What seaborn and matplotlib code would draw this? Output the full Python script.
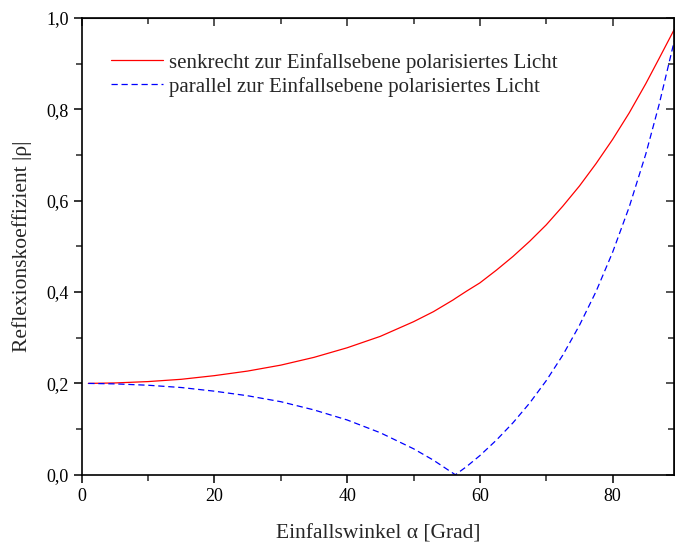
import matplotlib
matplotlib.use("Agg")
import matplotlib.pyplot as plt
from matplotlib.ticker import MultipleLocator, FuncFormatter
import pandas as pd
import seaborn as sns

# angle of incidence in degrees and |rho|
angles = [1, 5, 10, 15, 20, 25, 30, 35, 40, 45, 50, 53, 56, 56.3, 58, 60, 62.5, 65, 67.5, 70,
          72.5, 75, 77.5, 80, 82.5, 85, 87, 89.3]
rho_senk = [0.200, 0.201, 0.204, 0.209, 0.217, 0.227, 0.240, 0.257, 0.278, 0.303, 0.335, 0.357,
            0.383, 0.386, 0.402, 0.420, 0.448, 0.478, 0.511, 0.547, 0.588, 0.632, 0.681, 0.734,
            0.792, 0.856, 0.911, 0.975]
rho_par = [0.200, 0.199, 0.196, 0.191, 0.183, 0.173, 0.160, 0.142, 0.120, 0.092, 0.057, 0.032,
           0.003, 0.000, 0.018, 0.042, 0.076, 0.114, 0.157, 0.206, 0.262, 0.327, 0.401, 0.487,
           0.586, 0.702, 0.810, 0.950]

label_senk = "senkrecht zur Einfallsebene polarisiertes Licht"
label_par = "parallel zur Einfallsebene polarisiertes Licht"

df = pd.DataFrame({
    "alpha": angles * 2,
    "rho": rho_senk + rho_par,
    "serie": [label_senk] * len(angles) + [label_par] * len(angles),
})

sns.set_style("ticks")
plt.rcParams["font.family"] = ["Liberation Serif", "DejaVu Serif"]

fig = plt.figure(figsize=(6.75, 5.42), dpi=100)
ax = fig.add_axes([0.121, 0.124, 0.878, 0.843])

sns.lineplot(data=df, x="alpha", y="rho", hue="serie", style="serie",
             palette={label_senk: "#ff0000", label_par: "#0000ff"},
             dashes={label_senk: "", label_par: (5, 3)},
             linewidth=0.9, ax=ax, sort=False)

ax.set_xlim(0, 89.3)
ax.set_ylim(0, 1.0)
ax.xaxis.set_major_locator(MultipleLocator(20))
ax.xaxis.set_minor_locator(MultipleLocator(10))
ax.yaxis.set_major_locator(MultipleLocator(0.2))
ax.yaxis.set_minor_locator(MultipleLocator(0.1))
ax.yaxis.set_major_formatter(FuncFormatter(lambda v, p: f"{v:.1f}".replace(".", ",")))
ax.tick_params(which="major", direction="out", length=6, width=1.1, labelsize=13, colors="black")
ax.tick_params(which="minor", direction="out", length=4, width=1.1)
for s in ax.spines.values():
    s.set_linewidth(1.2)
    s.set_color("black")

top = ax.secondary_xaxis("top")
top.xaxis.set_major_locator(MultipleLocator(20))
top.xaxis.set_minor_locator(MultipleLocator(10))
top.tick_params(which="major", direction="in", length=6, width=1.1, labeltop=False)
top.tick_params(which="minor", direction="in", length=4, width=1.1)
right = ax.secondary_yaxis("right")
right.yaxis.set_major_locator(MultipleLocator(0.2))
right.yaxis.set_minor_locator(MultipleLocator(0.1))
right.tick_params(which="major", direction="in", length=6, width=1.1, labelright=False)
right.tick_params(which="minor", direction="in", length=4, width=1.1)

ax.set_xlabel("Einfallswinkel α [Grad]", fontsize=15.5, labelpad=14)
ax.set_ylabel("Reflexionskoeffizient |ρ|", fontsize=15.5, labelpad=10)

ax.legend(loc="upper left", bbox_to_anchor=(0.018, 0.965), frameon=False, fontsize=15,
          handlelength=2.5, handletextpad=0.3, labelspacing=0.2)

fig.savefig("out.png", dpi=100)
